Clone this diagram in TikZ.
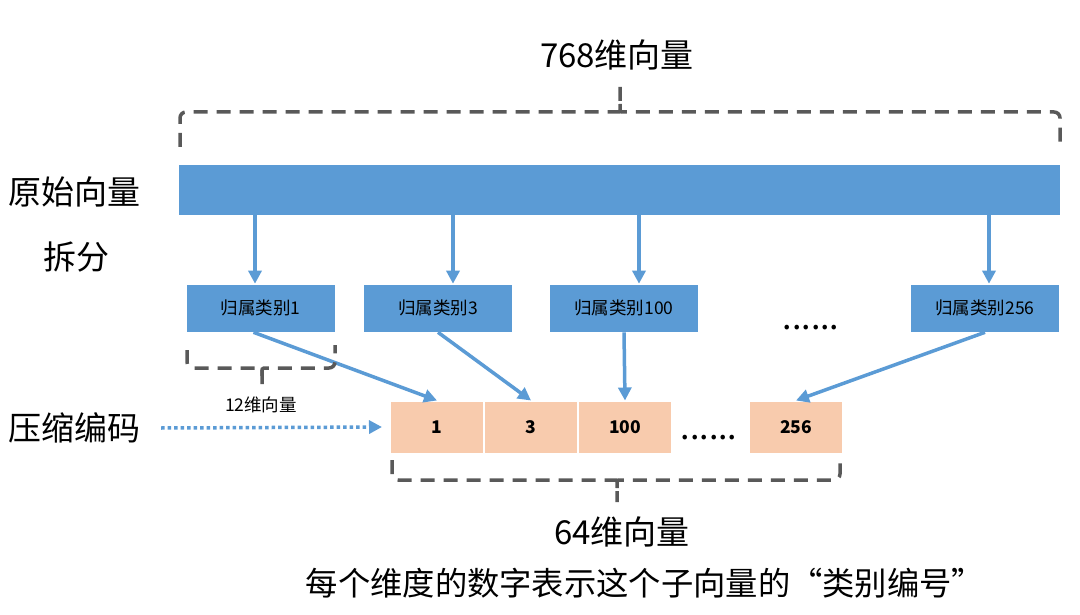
\documentclass[tikz,border=0pt]{standalone}
\usepackage{fontspec}
\setmainfont{Noto Sans CJK SC}
\usepackage{tikz}
\usetikzlibrary{arrows.meta}
\usetikzlibrary{positioning}
\definecolor{barblue}{HTML}{5B9BD5}
\definecolor{cellpeach}{HTML}{F8CBAD}
\definecolor{bracegray}{HTML}{595959}
\newcommand{\bigtext}[0]{\fontsize{33}{38}\selectfont}
\newcommand{\notetext}[0]{\fontsize{32.3}{38}\selectfont}
\newcommand{\midtext}[0]{\fontsize{17.5}{21}\selectfont}
\newcommand{\dotstext}[0]{\fontsize{34}{38}\selectfont}
\begin{document}
\begin{tikzpicture}[x=1pt,y=-1pt,->,>={Triangle[length=13pt,width=13pt]}]
\tikzstyle{subvec} = [fill=barblue, draw=white, line width=0.6pt, minimum width=149pt, minimum height=48pt, inner sep=0pt, font=\midtext]
\tikzstyle{code} = [fill=cellpeach, draw=white, line width=1pt, minimum width=93pt, minimum height=52pt, inner sep=0pt, font=\midtext\bfseries]
\tikzstyle{label} = [inner sep=0pt, font=\bigtext]
\tikzstyle{brace} = [-, draw=bracegray, line width=3.5pt, dash pattern=on 14pt off 9pt, rounded corners=6pt]
\tikzstyle{link} = [barblue, line width=3.5pt]

\useasboundingbox (0,0) rectangle (1080,615);

\node[label] (dim768) at (617,55)  {768维向量};
\node[label] (orig)   at (75,192)  {原始向量};
\node[label] (split)  at (76,257)  {拆分};
\node[label] (zip)    at (75,428)  {压缩编码};

\node[fill=barblue, minimum width=881pt, minimum height=50pt, inner sep=0pt] (bar) at (619.5,190) {};

\node[subvec] (cat1)   at (260.5,308) {归属类别1};
\node[subvec] (cat3)   at (438,308)   {归属类别3};
\node[subvec] (cat100) at (624,308)   {归属类别100};
\node[subvec] (cat256) at (985,308)   {归属类别256};
\node[font=\dotstext, anchor=base] (dots1) at (811,329) {......};

\node[code] (c1)                      at (437,427) {1};
\node[code] (c3)   [right = 0pt of c1]  {3};
\node[code] (c100) [right = 0pt of c3]  {100};
\node[code] (c256)                    at (796,427) {256};
\node[font=\dotstext, anchor=base] (dots2) at (709,439) {......};

\node[font=\midtext] (dim12) at (261,405) {12维向量};
\node[label] (dim64) at (622,532) {64维向量};
\node[inner sep=0pt, font=\notetext] (note) at (645,583) {每个维度的数字表示这个子向量的“类别编号”};

% split arrows
\path[link]
   ([xshift=-5.5pt]cat1.north |- bar.south) edge ([xshift=-5.5pt]cat1.north)
   ([xshift=15pt]cat3.north |- bar.south)   edge ([xshift=15pt]cat3.north)
   ([xshift=15pt]cat100.north |- bar.south) edge ([xshift=15pt]cat100.north)
   ([xshift=4pt]cat256.north |- bar.south)  edge ([xshift=4pt]cat256.north)
;

\path[link]
   ([xshift=-7pt]cat1.south) edge (c1.north)
   (cat3.south)              edge (c3.north)
   (cat100.south)            edge (c100.north)
   (cat256.south)            edge (c256.north)
;

\draw[link, dash pattern=on 3.5pt off 3pt] ([xshift=20pt]zip.east) -- ([xshift=-8pt]c1.west);

% braces
\draw[brace] (180,147) -- (180,112) -- (612,112) .. controls (620,112) .. (620,104) -- (620,80);
\draw[brace] (620,104) .. controls (620,112) .. (628,112) -- (1060,112) -- (1060,147);
\draw[brace] (187,350) -- (187,368) -- (254,368) .. controls (262,368) .. (262,376) -- (262,384);
\draw[brace] (262,376) .. controls (262,368) .. (270,368) -- (335,368) -- (335,345);
\draw[brace] (392,460) -- (392,480) -- (609,480) .. controls (617,480) .. (617,488) -- (617,502);
\draw[brace] (617,488) .. controls (617,480) .. (625,480) -- (840,480) -- (840,460);

\end{tikzpicture}
\end{document}
